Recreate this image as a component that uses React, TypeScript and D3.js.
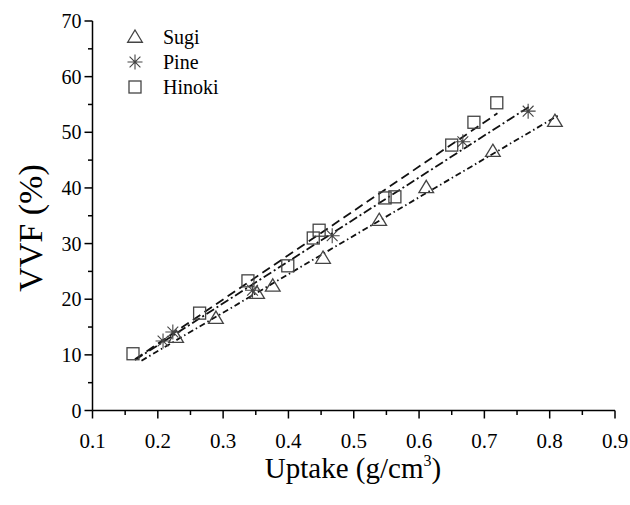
import React from "react";
import * as d3 from "d3";

const xTicks = [0.1, 0.2, 0.3, 0.4, 0.5, 0.6, 0.7, 0.8, 0.9];
const yTicks = [0, 10, 20, 30, 40, 50, 60, 70];

const sugiX = [0.228, 0.289, 0.352, 0.376, 0.453, 0.539, 0.611, 0.713, 0.808];
const sugiY = [13.2, 16.6, 21.1, 22.4, 27.4, 34.2, 40.1, 46.6, 52.0];

const pineX = [0.208, 0.223, 0.345, 0.467, 0.667, 0.767];
const pineY = [12.5, 14.1, 21.6, 31.4, 48.3, 53.8];

const hinokiX = [0.162, 0.264, 0.338, 0.399, 0.438, 0.447, 0.548, 0.563, 0.65, 0.684, 0.719];
const hinokiY = [10.2, 17.5, 23.3, 26.0, 31.0, 32.4, 38.2, 38.4, 47.7, 51.8, 55.3];

const seriesNames = ["Sugi", "Pine", "Hinoki"];
const fitStart = [0.175, 0.165, 0.165];
const fitEnd = [0.815, 0.768, 0.72];

const W = 630, H = 505;
const x = d3.scaleLinear().domain([0.1, 0.9]).range([92.5, 615]);
const y = d3.scaleLinear().domain([0, 70]).range([410.5, 21]);

function fit(xs: number[], ys: number[]) {
  const mx = d3.mean(xs)!, my = d3.mean(ys)!;
  let sxy = 0, sxx = 0;
  xs.forEach((v, i) => { sxy += (v - mx) * (ys[i] - my); sxx += (v - mx) * (v - mx); });
  const b = sxy / sxx;
  return { a: my - b * mx, b };
}

const MARK = "#444";

function Triangle({ cx, cy }: { cx: number; cy: number }) {
  const s = 7;
  return <path d={`M${cx},${cy - s}L${cx + s * 1.05},${cy + s * 0.75}L${cx - s * 1.05},${cy + s * 0.75}Z`} fill="none" stroke={MARK} strokeWidth={1.3} />;
}
function Square({ cx, cy }: { cx: number; cy: number }) {
  const s = 6;
  return <rect x={cx - s} y={cy - s} width={2 * s} height={2 * s} fill="none" stroke={MARK} strokeWidth={1.3} />;
}
function Star({ cx, cy }: { cx: number; cy: number }) {
  const r = 7.5;
  const d = r * 0.72;
  return (
    <path d={`M${cx},${cy - r}L${cx},${cy + r}M${cx - d},${cy - d}L${cx + d},${cy + d}M${cx - d},${cy + d}L${cx + d},${cy - d}M${cx - r},${cy}L${cx + r},${cy}`} stroke={MARK} strokeWidth={1.1} fill="none" />
  );
}

export default function App() {
  const xsAll = [sugiX, pineX, hinokiX];
  const ysAll = [sugiY, pineY, hinokiY];
  const dashes = ["6,3,1.5,3", "9,3,2,3", "9,5"];
  const minorX = d3.range(0.15, 0.9, 0.1);
  const minorY = d3.range(5, 70, 10);
  const font = "'Liberation Serif', 'Times New Roman', serif";
  const legendY = [37, 62, 87];
  const markers = [Triangle, Star, Square];
  return (
    <svg width={W} height={H} style={{ position: "absolute", left: 0, top: 0, background: "#fff" }} fontFamily={font}>
      <rect width={W} height={H} fill="#fff" />
      {xsAll.map((xs, i) => {
        const { a, b } = fit(xs, ysAll[i]);
        return (
          <line key={"f" + i} x1={x(fitStart[i])} y1={y(a + b * fitStart[i])} x2={x(fitEnd[i])} y2={y(a + b * fitEnd[i])}
            stroke="#111" strokeWidth={1.8} strokeDasharray={dashes[i]} />
        );
      })}
      {sugiX.map((v, i) => <Triangle key={"s" + i} cx={x(v)} cy={y(sugiY[i])} />)}
      {pineX.map((v, i) => <Star key={"p" + i} cx={x(v)} cy={y(pineY[i])} />)}
      {hinokiX.map((v, i) => <Square key={"h" + i} cx={x(v)} cy={y(hinokiY[i])} />)}
      <line x1={x(0.1)} y1={y(0)} x2={x(0.9)} y2={y(0)} stroke="#000" strokeWidth={1.5} />
      <line x1={x(0.1)} y1={y(0)} x2={x(0.1)} y2={y(70)} stroke="#000" strokeWidth={1.5} />
      {xTicks.map((t) => (
        <g key={"xt" + t}>
          <line x1={x(t)} x2={x(t)} y1={y(0)} y2={y(0) + 8} stroke="#000" strokeWidth={1.5} />
          <text x={x(t)} y={y(0) + 37} textAnchor="middle" fontSize={21}>{d3.format(".1f")(t)}</text>
        </g>
      ))}
      {minorX.map((t) => <line key={"xm" + t} x1={x(t)} x2={x(t)} y1={y(0)} y2={y(0) + 4.5} stroke="#000" strokeWidth={1.5} />)}
      {yTicks.map((t) => (
        <g key={"yt" + t}>
          <line x1={x(0.1) - 8} x2={x(0.1)} y1={y(t)} y2={y(t)} stroke="#000" strokeWidth={1.5} />
          <text x={x(0.1) - 11} y={y(t) + 7} textAnchor="end" fontSize={20}>{t}</text>
        </g>
      ))}
      {minorY.map((t) => <line key={"ym" + t} x1={x(0.1) - 4.5} x2={x(0.1)} y1={y(t)} y2={y(t)} stroke="#000" strokeWidth={1.5} />)}
      <text x={353} y={478} textAnchor="middle" fontSize={29}>
        Uptake (g/cm<tspan dy={-12} fontSize={16}>3</tspan><tspan dy={12}>)</tspan>
      </text>
      <text transform={`translate(42,${228}) rotate(-90)`} textAnchor="middle" fontSize={34}>VVF (%)</text>
      {seriesNames.map((n, i) => {
        const M = markers[i];
        return (
          <g key={"l" + i}>
            <M cx={135} cy={legendY[i]} />
            <text x={163} y={legendY[i] + 7} fontSize={20}>{n}</text>
          </g>
        );
      })}
    </svg>
  );
}
